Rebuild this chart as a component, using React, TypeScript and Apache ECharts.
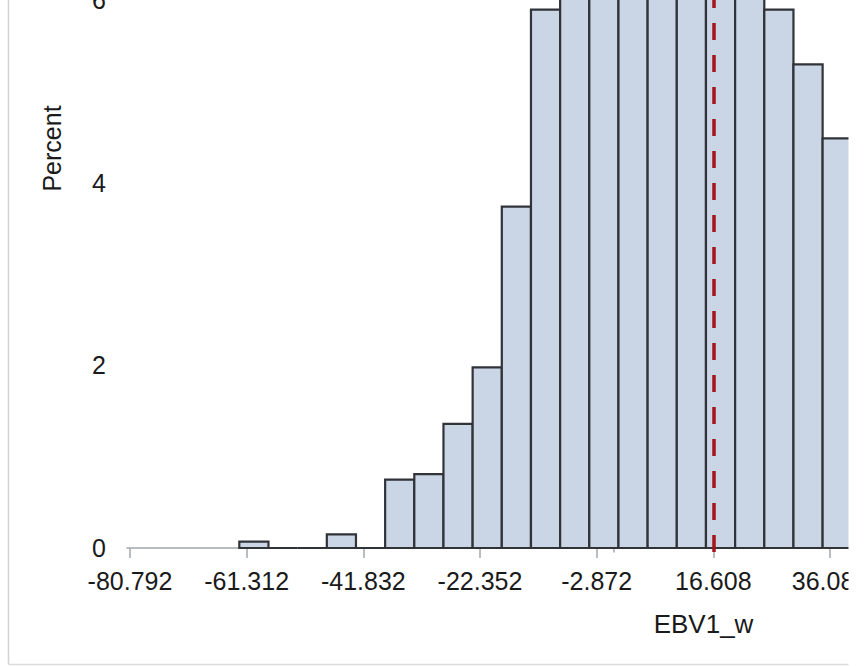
import React, { useEffect, useRef } from "react";
import * as echarts from "echarts";

// Histogram bins (percent), bin edges start at binStart with width binWidth
const binStart = -62.54;
const binWidth = 4.87;
const percentValues = [
  0.07, 0, 0, 0.15, 0, 0.75, 0.81, 1.36, 1.98, 3.74, 5.9,
  7.1, 7.9, 8.4, 8.6, 8.3, 7.6, 6.7, 5.9, 5.3, 4.49,
];
const xTickValues = [-80.792, -61.312, -41.832, -22.352, -2.872, 16.608, 36.088];
const yTickValues = [0, 2, 4, 6];
const referenceLineValue = 16.608;
const xAxisTitle = "EBV1_w";
const yAxisTitle = "Percent";

const FONT = "'Liberation Sans', Arial, sans-serif";
const TEXT = "#1a1a1a";
const AXIS = "#a3a7ac";

// The visible window is a crop of a larger chart canvas
const OFF_Y = 300;
const CANVAS_W = 1300;
const CANVAS_H = 966;

export default function App() {
  const ref = useRef<HTMLDivElement>(null);
  useEffect(() => {
    if (!ref.current) return;
    const chart = echarts.init(ref.current, undefined, { renderer: "svg" });
    const data = percentValues.map((v, i) => [
      binStart + i * binWidth,
      binStart + (i + 1) * binWidth,
      v,
    ]);
    chart.setOption({
      animation: false,
      backgroundColor: "#ffffff",
      grid: {
        left: 127,
        right: CANVAS_W - 1280,
        top: OFF_Y - 255,
        bottom: CANVAS_H - (552 + OFF_Y),
        containLabel: false,
        outerBoundsMode: "none",
      },
      xAxis: {
        type: "value",
        min: -81.293,
        max: 111.23,
        name: xAxisTitle,
        nameLocation: "middle",
        nameGap: 59,
        nameTextStyle: { fontSize: 26, color: TEXT, fontFamily: FONT },
        axisLine: { show: true, lineStyle: { color: AXIS, width: 1.5 } },
        axisTick: { show: true, length: 10, customValues: xTickValues, lineStyle: { color: AXIS, width: 1.5 } },
        axisLabel: {
          customValues: xTickValues,
          fontSize: 25,
          color: TEXT,
          fontFamily: FONT,
          margin: 16,
          formatter: (v: number) => v.toFixed(3),
        },
        splitLine: { show: false },
      },
      yAxis: {
        type: "value",
        min: -0.044,
        max: 8.8,
        name: yAxisTitle,
        nameLocation: "middle",
        nameGap: 63,
        nameTextStyle: { fontSize: 25, color: TEXT, fontFamily: FONT },
        axisLine: { show: true, lineStyle: { color: AXIS, width: 1.5 } },
        axisTick: { show: true, length: 11, customValues: yTickValues, lineStyle: { color: AXIS, width: 1.5 } },
        axisLabel: {
          customValues: yTickValues,
          fontSize: 25,
          color: TEXT,
          fontFamily: FONT,
          margin: 21,
          formatter: (v: number) => String(v),
        },
        splitLine: { show: false },
      },
      series: [
        {
          type: "custom",
          clip: false,
          encode: { x: [0, 1], y: 2 },
          data,
          renderItem: (params: any, api: any) => {
            const x0 = api.value(0);
            const x1 = api.value(1);
            const v = api.value(2);
            const pTop = api.coord([x0, v]);
            const pBot = api.coord([x1, 0]);
            return {
              type: "rect",
              shape: {
                x: pTop[0],
                y: pTop[1],
                width: pBot[0] - pTop[0],
                height: pBot[1] - pTop[1],
              },
              style: { fill: "#cad5e5", stroke: "#303338", lineWidth: 2.2 },
            };
          },
          markLine: {
            silent: true,
            symbol: ["none", "none"],
            label: { show: false },
            lineStyle: { color: "#a8141c", width: 3.5, type: [17, 15] },
            data: [{ xAxis: referenceLineValue }],
          },
          z: 2,
        },
      ],
      graphic: [
        {
          type: "rect",
          z: 100,
          shape: { x: 848.5, y: 0, width: CANVAS_W - 848.5, height: CANVAS_H },
          style: { fill: "#ffffff" },
        },
        {
          type: "line",
          z: 101,
          shape: { x1: 8.5, y1: OFF_Y, x2: 8.5, y2: OFF_Y + 664.5 },
          style: { stroke: "#d4d4d4", lineWidth: 1.5 },
        },
        {
          type: "line",
          z: 101,
          shape: { x1: 8.5, y1: OFF_Y + 664.5, x2: 848.5, y2: OFF_Y + 664.5 },
          style: { stroke: "#dcdcdc", lineWidth: 1.5 },
        },
      ],
    });
    return () => chart.dispose();
  }, []);
  return (
    <div
      style={{
        position: "absolute",
        left: 0,
        top: 0,
        width: 865,
        height: 666,
        overflow: "hidden",
        background: "#ffffff",
      }}
    >
      <div
        ref={ref}
        style={{
          position: "absolute",
          left: 0,
          top: -OFF_Y,
          width: CANVAS_W,
          height: CANVAS_H,
        }}
      />
    </div>
  );
}
